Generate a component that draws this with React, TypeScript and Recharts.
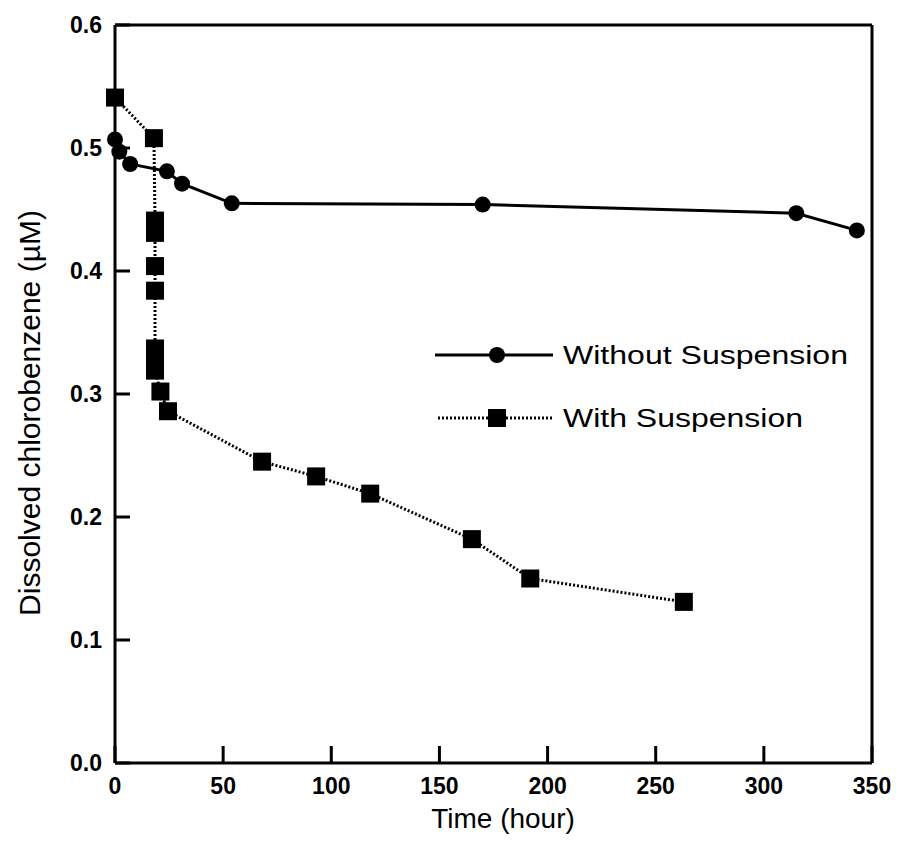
import { LineChart, Line, XAxis, YAxis, ReferenceLine } from "recharts";

// Without suspension (circles)
const withoutTime = [0, 2, 7, 24, 31, 54, 170, 315, 343];
const withoutConc = [0.507, 0.497, 0.487, 0.481, 0.471, 0.455, 0.454, 0.447, 0.433];

// With suspension (squares)
const withTime = [0, 18, 18.5, 18.5, 18.5, 18.5, 18.5, 18.5, 18.5, 21, 24.5, 68, 93, 118, 165, 192, 263];
const withConc = [
  0.541, 0.508, 0.441, 0.431, 0.404, 0.384, 0.337, 0.329, 0.319, 0.302, 0.286, 0.245, 0.233, 0.219,
  0.182, 0.15, 0.131,
];

const xTicks = [0, 50, 100, 150, 200, 250, 300, 350];
const yTicks = [0, 0.1, 0.2, 0.3, 0.4, 0.5, 0.6];

const withoutData = withoutTime.map((t, i) => ({ t, c: withoutConc[i] }));
const withData = withTime.map((t, i) => ({ t, c: withConc[i] }));

const FONT = "'Liberation Sans', Arial, Helvetica, sans-serif";

// ticks point inward in the original, so the tick line is drawn with the label
const XTick = (props: any) => {
  const { x, y, payload } = props;
  const axisY = y - 14;
  return (
    <g>
      <line x1={x} y1={axisY} x2={x} y2={axisY - 17} stroke="#000" strokeWidth={3} />
      <text x={x} y={y + 17} textAnchor="middle" fontSize={23} fontWeight="bold" fontFamily={FONT} fill="#000">
        {payload.value}
      </text>
    </g>
  );
};

const YTick = (props: any) => {
  const { x, y, payload } = props;
  const axisX = x + 13;
  return (
    <g>
      <line x1={axisX} y1={y} x2={axisX + 15} y2={y} stroke="#000" strokeWidth={3} />
      <text x={x} y={y + 8} textAnchor="end" fontSize={23} fontWeight="bold" fontFamily={FONT} fill="#000">
        {Number(payload.value).toFixed(1)}
      </text>
    </g>
  );
};

const SquareDot = (props: any) => {
  const { cx, cy, index } = props;
  return <rect key={`sq-${index}`} x={cx - 9} y={cy - 9} width={18} height={18} fill="#000" />;
};

export default function App() {
  return (
    <div style={{ position: "absolute", left: 0, top: 0, background: "#fff" }}>
      <LineChart width={906} height={845} margin={{ top: 25, right: 34, left: 55, bottom: 22 }}>
        <XAxis
          dataKey="t"
          type="number"
          domain={[0, 350]}
          ticks={xTicks}
          allowDuplicatedCategory={false}
          height={60}
          tickSize={0}
          tickMargin={14}
          axisLine={{ stroke: "#000", strokeWidth: 3 }}
          tickLine={false}
          tick={<XTick />}
        />
        <YAxis
          type="number"
          domain={[0, 0.6]}
          ticks={yTicks}
          width={60}
          tickSize={0}
          tickMargin={13}
          axisLine={{ stroke: "#000", strokeWidth: 3 }}
          tickLine={false}
          tick={<YTick />}
        />
        {/* top and right frame */}
        <ReferenceLine y={0.6} stroke="#000" strokeWidth={3} />
        <ReferenceLine x={350} stroke="#000" strokeWidth={3} />
        <Line
          data={withoutData}
          dataKey="c"
          name="Without Suspension"
          type="linear"
          stroke="#000"
          strokeWidth={3}
          dot={{ r: 8, fill: "#000", stroke: "#000", strokeWidth: 0 }}
          activeDot={false}
          isAnimationActive={false}
        />
        <Line
          data={withData}
          dataKey="c"
          name="With Suspension"
          type="linear"
          stroke="#000"
          strokeWidth={3}
          strokeDasharray="2 2"
          dot={SquareDot}
          activeDot={false}
          isAnimationActive={false}
        />

        {/* legend drawn inside the plot */}
        <g>
          <line x1={435} y1={355} x2={553} y2={355} stroke="#000" strokeWidth={3} />
          <circle cx={497} cy={355} r={8} fill="#000" />
          <text x={563} y={364} fontSize={25} fontFamily={FONT} fill="#000" textLength={285} lengthAdjust="spacingAndGlyphs">
            Without Suspension
          </text>
          <line x1={438} y1={418} x2={553} y2={418} stroke="#000" strokeWidth={3} strokeDasharray="2 2" />
          <rect x={488} y={409} width={18} height={18} fill="#000" />
          <text x={563} y={427} fontSize={25} fontFamily={FONT} fill="#000" textLength={240} lengthAdjust="spacingAndGlyphs">
            With Suspension
          </text>
        </g>

        {/* axis titles */}
        <text x={503} y={828} textAnchor="middle" fontSize={28} fontFamily={FONT} fill="#000">
          Time (hour)
        </text>
        <text
          x={40}
          y={413}
          textAnchor="middle"
          fontSize={30}
          fontFamily={FONT}
          fill="#000"
          transform="rotate(-90 40 413)"
        >
          Dissolved chlorobenzene (µM)
        </text>
      </LineChart>
    </div>
  );
}
